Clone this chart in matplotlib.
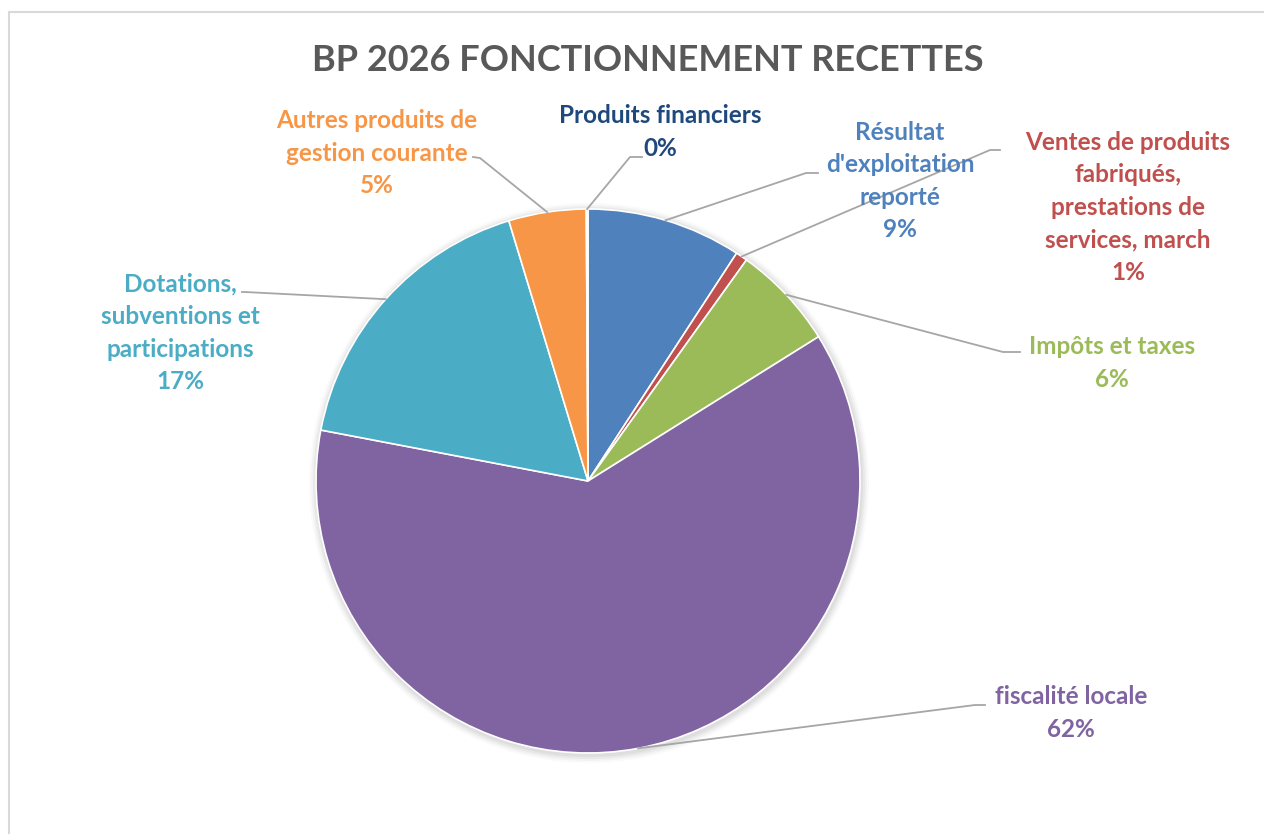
import numpy as np
import matplotlib.pyplot as plt
from matplotlib.patches import Rectangle, Circle

plt.rcParams['font.family'] = ['Lato', 'DejaVu Sans']

# données (ordre horaire en partant du haut)
labels = ["Résultat\nd'exploitation\nreporté",
          "Ventes de produits\nfabriqués,\nprestations de\nservices, march",
          "Impôts et taxes",
          "fiscalité locale",
          "Dotations,\nsubventions et\nparticipations",
          "Autres produits de\ngestion courante",
          "Produits financiers"]
values = [9.2, 0.7, 6.2, 61.9, 17.3, 4.6, 0.1]
colors = ['#4F81BD', '#C0504D', '#9BBB59', '#8064A2', '#4BACC6', '#F79646', '#1F497D']
text_colors = ['#4F81BD', '#C0504D', '#9BBB59', '#8064A2', '#4BACC6', '#F79646', '#1F497D']

# position des étiquettes (pixels, origine en haut à gauche)
label_pos = [(900, 181), (1128, 207), (1112, 363), (1071, 713), (180, 333), (377, 153), (660, 132)]
elbow_pos = [(806, 173), (990, 150), (1003, 352), (975, 705), (245, 292), (480, 158), (630, 157)]
elbow_end = [(818, 173), (1000, 150), (1020, 352), (985, 705), (242, 292), (473, 157), (642, 157)]

W, H = 1264, 834
fig = plt.figure(figsize=(W / 100, H / 100), dpi=100)
ax = fig.add_axes([0, 0, 1, 1])
ax.set_xlim(0, W)
ax.set_ylim(0, H)
ax.axis('off')

# cadre
ax.add_patch(Rectangle((9, -10), W + 20, H - 12 + 10, fill=False, ec='#D9D9D9', lw=1.5))

cx, cy, r = 588, H - 481, 272

# ombre légère
for i, a in enumerate([0.04, 0.04, 0.03, 0.02]):
    ax.add_patch(Circle((cx + 1, cy - 2), r + 2 + 2 * i, color='black', alpha=a, lw=0, zorder=1))

wedges, _ = ax.pie(values, colors=colors, startangle=90, counterclock=False,
                   center=(cx, cy), radius=r, frame=True,
                   wedgeprops=dict(edgecolor='white', linewidth=1.2, zorder=2))
ax.set_xlim(0, W)
ax.set_ylim(0, H)
ax.set_aspect('equal')
ax.axis('off')

total = sum(values)
for w, lab, v, tc, lp, ep, ee in zip(wedges, labels, values, text_colors, label_pos, elbow_pos, elbow_end):
    mid = np.deg2rad((w.theta1 + w.theta2) / 2)
    sx, sy = cx + r * np.cos(mid), cy + r * np.sin(mid)
    ax.plot([sx, ep[0], ee[0]], [sy, H - ep[1], H - ee[1]], color='#A6A6A6', lw=1.3, zorder=3)
    ax.text(lp[0], H - lp[1], f"{lab}\n{v / total * 100:.0f}%", ha='center', va='center',
            color=tc, fontsize=17.5, fontweight='bold', linespacing=1.5, zorder=4)

ax.text(648, H - 60, "BP 2026 FONCTIONNEMENT RECETTES", ha='center', va='center',
        color='#595959', fontsize=26, fontweight='bold')

fig.savefig('out.png', dpi=100)
